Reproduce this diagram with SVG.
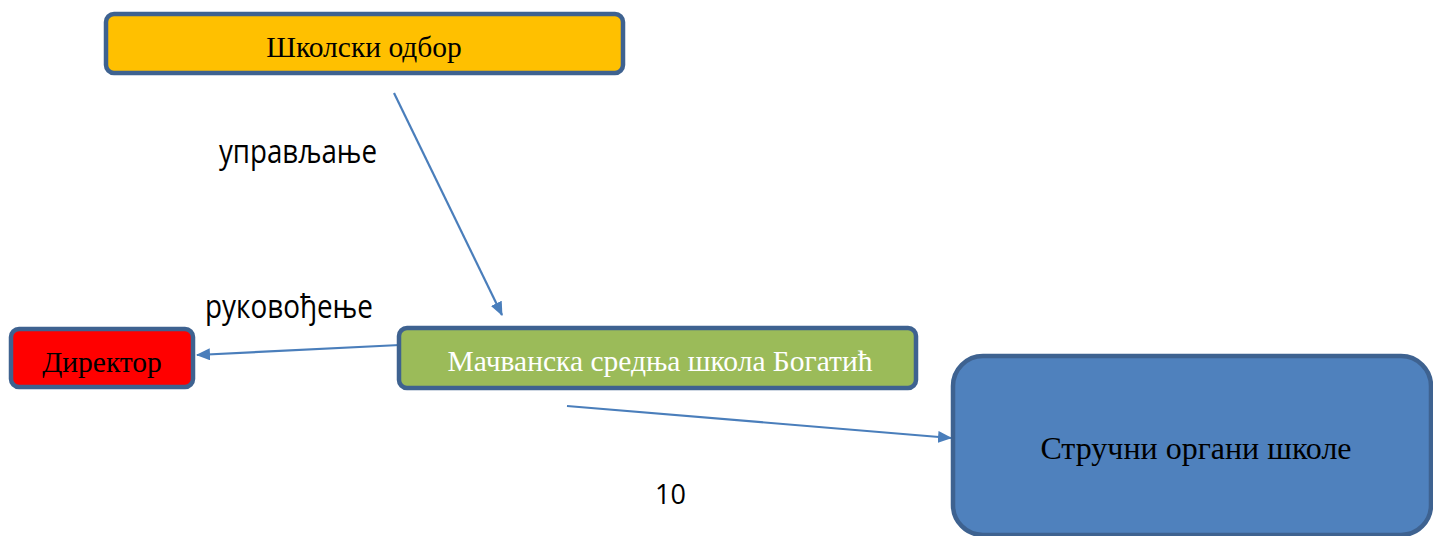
<svg xmlns="http://www.w3.org/2000/svg" width="1433" height="536" viewBox="0 0 1433 536">
<style>
.box{stroke:#3e6290;stroke-width:4.5}
.t{font-family:"Liberation Serif","Times New Roman",serif;font-size:29.5px;text-anchor:middle}
.lbl{font-family:"Open Sans","Noto Sans","Liberation Sans",sans-serif;font-size:32px;fill:#000}
.c{stroke:#4a7ebb;stroke-width:2.2;fill:none;marker-end:url(#ah)}
</style>
<defs>
<marker id="ah" viewBox="0 0 14 12" refX="13" refY="6" markerWidth="14" markerHeight="12" markerUnits="userSpaceOnUse" orient="auto">
<path d="M0,0 L14,6 L0,12 Z" fill="#4a7ebb"/>
</marker>
</defs>
<rect width="1433" height="536" fill="#fff"/>
<g id="connectors">
<line class="c" x1="394" y1="93" x2="502" y2="315"/>
<line class="c" x1="400" y1="345" x2="197" y2="355"/>
<line class="c" x1="567" y1="406" x2="951" y2="438"/>
</g>
<g id="n-odbor">
<rect class="box" x="106" y="14" width="517" height="59" rx="8" fill="#ffc000"/>
<text class="t" x="364" y="57" fill="#000">Школски одбор</text>
</g>
<g id="n-direktor">
<rect class="box" x="11" y="329" width="182" height="58" rx="8" fill="#ff0000"/>
<text class="t" x="102" y="372" fill="#000">Директор</text>
</g>
<g id="n-skola">
<rect class="box" x="399" y="328" width="517" height="60" rx="8" fill="#9bbb59"/>
<text class="t" x="660" y="371" fill="#fff">Мачванска средња школа Богатић</text>
</g>
<g id="n-strucni">
<rect class="box" x="953" y="356" width="478" height="179" rx="30" fill="#4f81bd"/>
<text class="t" x="1196" y="459" fill="#000" style="font-size:32px">Стручни органи школе</text>
</g>
<g id="labels">
<text class="lbl" x="219" y="163" textLength="158" lengthAdjust="spacingAndGlyphs">управљање</text>
<text class="lbl" x="205" y="318" textLength="168" lengthAdjust="spacingAndGlyphs">руковођење</text>
<text class="lbl" x="655" y="504" style="font-size:27px">10</text>
</g>
</svg>
